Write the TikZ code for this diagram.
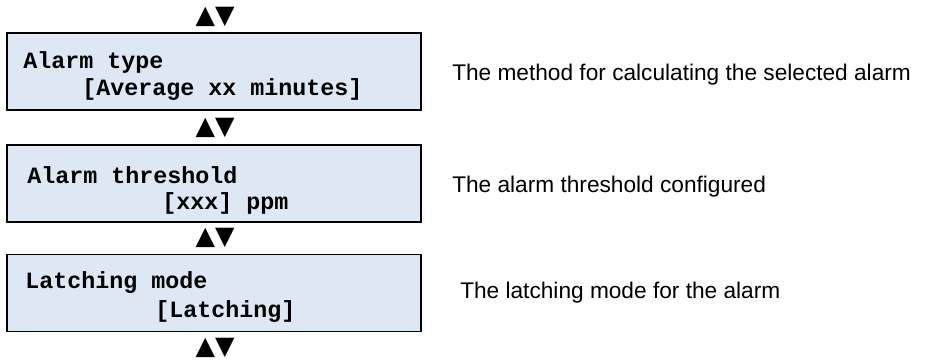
\documentclass[tikz,border=0pt]{standalone}
\usepackage{fontspec}
\setmainfont{Liberation Sans}
\newfontfamily\lcdfont{Liberation Mono}
\newfontfamily\symfont{DejaVu Sans}
\definecolor{lcdfill}{HTML}{DEE8F4}
\tikzset{
  lcdbox/.style={draw=black, line width=1.2pt, fill=lcdfill, minimum width=310.5pt, minimum height=57.75pt, inner sep=0pt},
  lcdtext/.style={anchor=west, inner sep=0pt, font=\lcdfont\bfseries\fontsize{17.5}{20}\selectfont},
  desc/.style={anchor=west, inner sep=0pt, font=\fontsize{17}{20}\selectfont},
  navsym/.style={inner sep=0pt, font=\symfont\fontsize{19}{20}\selectfont}
}
\begin{document}
\begin{tikzpicture}[x=0.75pt, y=-0.75pt]
\useasboundingbox (0,0) rectangle (947,361);
% navigation symbols
\node[navsym] (n0) at (215,16.5) {▲▼};
\node[navsym] (n1) at (215,127.5) {▲▼};
\node[navsym] (n2) at (215,238) {▲▼};
\node[navsym] (n3) at (215,348) {▲▼};
% boxes
\node[lcdbox] (b1) at (214,71.5) {};
\node[lcdbox] (b2) at (214,183.5) {};
\node[lcdbox] (b3) at (214,293) {};
% box texts
\node[lcdtext] (t1a) at (23,62) {Alarm type};
\node[lcdtext] (t1b) at (82,90) {[Average xx minutes]};
\node[lcdtext] (t2a) at (27,175) {Alarm threshold};
\node[lcdtext] (t2b) at (162,203) {[xxx] ppm};
\node[lcdtext] (t3a) at (25,283) {Latching mode};
\node[lcdtext] (t3b) at (155,312) {[Latching]};
% descriptions
\node[desc] (d1) at (452,75) {The method for calculating the selected alarm};
\node[desc] (d2) at (452,187) {The alarm threshold configured};
\node[desc] (d3) at (460,293) {The latching mode for the alarm};
\end{tikzpicture}
\end{document}
